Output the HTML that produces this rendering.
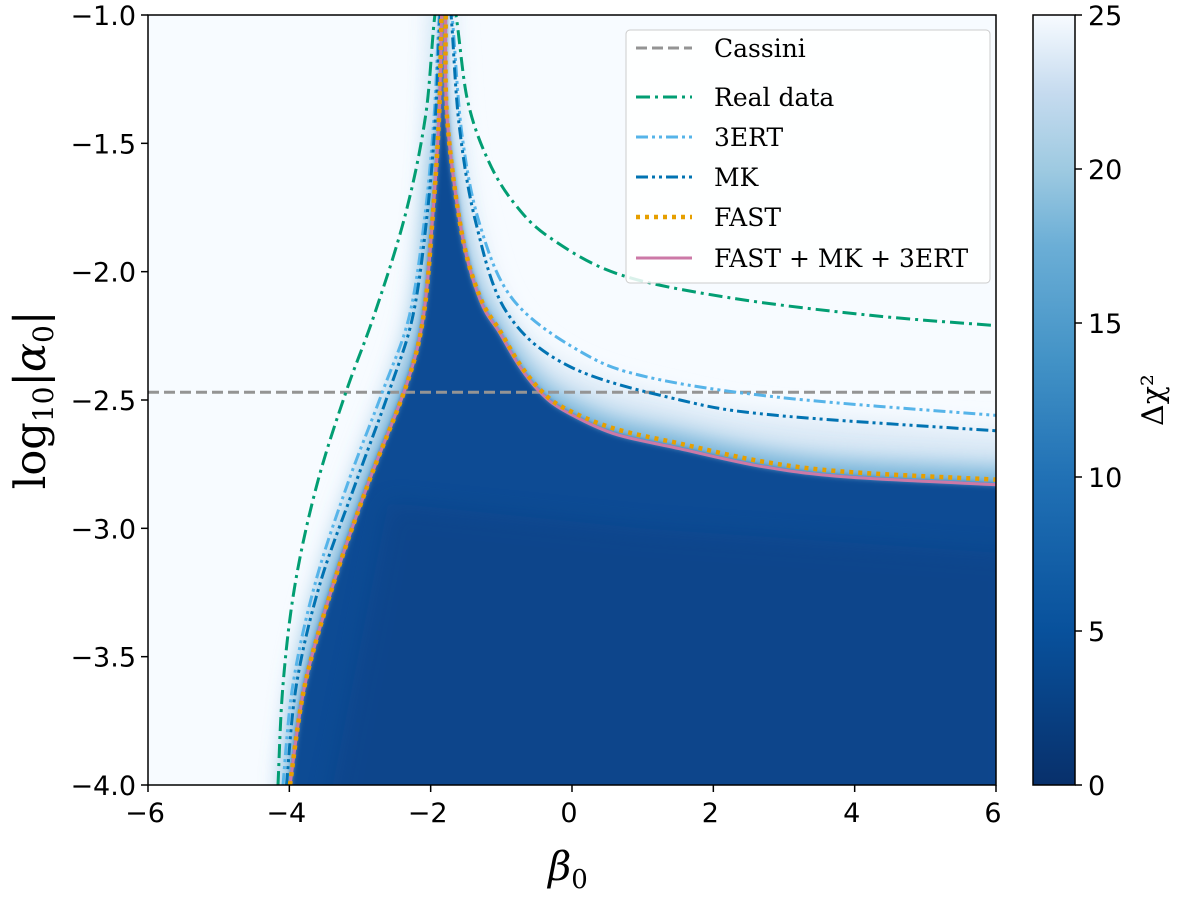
<!DOCTYPE html>
<html><head><meta charset="utf-8"><style>
body{margin:0;background:#fff;width:1200px;height:893px;overflow:hidden}
svg text{font-family:"DejaVu Sans","Liberation Sans",sans-serif}
.serif{font-family:"DejaVu Serif","Liberation Serif",serif}
</style></head><body>
<svg id="chart" width="1200" height="893" xmlns="http://www.w3.org/2000/svg">
<defs>
<clipPath id="plotclip"><rect x="148" y="15" width="848" height="770"/></clipPath>
<filter id="blur4" x="-20%" y="-20%" width="140%" height="140%"><feGaussianBlur stdDeviation="3"/></filter>
<filter id="blur14" x="-20%" y="-20%" width="140%" height="140%"><feGaussianBlur stdDeviation="12"/></filter>
<linearGradient id="cbgrad" x1="0" y1="1" x2="0" y2="0">
<stop offset="0" stop-color="#08306b"/><stop offset="0.2" stop-color="#08519c"/><stop offset="0.4" stop-color="#2171b5"/><stop offset="0.55" stop-color="#4292c6"/><stop offset="0.7" stop-color="#6baed6"/><stop offset="0.8" stop-color="#9ecae1"/><stop offset="0.9" stop-color="#c6dbef"/><stop offset="1" stop-color="#f7fbff"/>
</linearGradient>
</defs>
<g id="plot" clip-path="url(#plotclip)"><rect x="148" y="15" width="848" height="770" fill="#f7fbff"/></g>
<g id="overlay"></g>
<rect x="148" y="15" width="848" height="770" fill="none" stroke="#000" stroke-width="1.5"/>
<g id="axes"></g>
<rect x="1033" y="15" width="42" height="770" fill="url(#cbgrad)" stroke="#000" stroke-width="1.5"/>
<text x="1163" y="400" font-size="30" class="serif" text-anchor="middle" transform="rotate(-90 1163 400)">Δχ²</text>
<text x="568" y="880" font-size="40" class="serif" font-style="italic" text-anchor="middle">β<tspan font-size="26" dy="8" font-style="normal">0</tspan></text>
<text x="45" y="400" font-size="43" class="serif" text-anchor="middle" transform="rotate(-90 45 400)">log<tspan font-size="28" dy="8">10</tspan><tspan dy="-8">|</tspan><tspan font-style="italic">α</tspan><tspan font-size="28" dy="8">0</tspan><tspan dy="-8">|</tspan></text>
<g id="legend">
<rect x="626" y="30" width="364" height="253" rx="4" fill="#fff" fill-opacity="0.85" stroke="#ccc" stroke-width="1"/>
</g>
</svg>
<script>
const xTicks=[-6,-4,-2,0,2,4,6];
const yTicks=[-1.0,-1.5,-2.0,-2.5,-3.0,-3.5,-4.0];
const cbTicks=[0,5,10,15,20,25];
const cassiniAlpha=-2.47;
// curves: left branch bottom->top, then right branch top->right edge
const realBeta=[-4.16,-4.09,-3.92,-3.61,-3.2,-2.8,-2.36,-2.07,-1.91,-1.68,-1.48,-1.18,-0.8,-0.3,0.66,2.19,4.22,6.0];
const realAlpha=[-4.0,-3.61,-3.22,-2.83,-2.47,-2.17,-1.78,-1.39,-0.95,-0.95,-1.33,-1.57,-1.74,-1.87,-2.01,-2.1,-2.17,-2.21];
const ertBeta=[-4.09,-3.95,-3.64,-3.18,-2.67,-2.3,-2.08,-1.95,-1.86,-1.72,-1.56,-1.3,-0.83,0.11,1.06,2.94,6.0];
const ertAlpha=[-4.0,-3.61,-3.22,-2.83,-2.46,-2.17,-1.78,-1.39,-0.95,-0.95,-1.46,-1.82,-2.11,-2.31,-2.41,-2.49,-2.56];
const mkBeta=[-4.04,-3.9,-3.57,-3.07,-2.58,-2.25,-2.05,-1.93,-1.85,-1.73,-1.6,-1.36,-0.92,-0.03,1.53,2.9,6.0];
const mkAlpha=[-4.0,-3.61,-3.22,-2.83,-2.46,-2.17,-1.78,-1.39,-0.95,-0.95,-1.42,-1.81,-2.16,-2.37,-2.5,-2.56,-2.62];
const fastBeta=[-3.99,-3.78,-3.38,-2.89,-2.34,-2.1,-1.97,-1.88,-1.84,-1.79,-1.77,-1.56,-1.3,-1.02,-0.74,-0.45,-0.12,0.58,1.53,2.7,3.9,6.0];
const fastAlpha=[-4.0,-3.61,-3.22,-2.83,-2.44,-2.17,-1.78,-1.39,-0.95,-0.95,-1.39,-1.85,-2.1,-2.23,-2.36,-2.46,-2.53,-2.61,-2.67,-2.74,-2.78,-2.81];
const combBeta=[-3.99,-3.78,-3.38,-2.89,-2.34,-2.1,-1.97,-1.88,-1.84,-1.79,-1.77,-1.56,-1.3,-1.02,-0.74,-0.45,-0.12,0.58,1.53,2.7,3.9,6.0];
const combAlpha=[-4.0,-3.61,-3.22,-2.83,-2.44,-2.17,-1.78,-1.39,-0.95,-0.95,-1.39,-1.85,-2.11,-2.24,-2.37,-2.47,-2.54,-2.63,-2.69,-2.76,-2.8,-2.83];
const cbMax=25;

const X=b=>148+(b+6)*(848/12);
const Y=a=>15+(-1-a)*(770/3);
const CY=v=>785-v/cbMax*770;
const NS='http://www.w3.org/2000/svg';
function mk(tag,attrs,parent){const e=document.createElementNS(NS,tag);for(const k in attrs)e.setAttribute(k,attrs[k]);parent.appendChild(e);return e;}
const plot=document.getElementById('plot'),axes=document.getElementById('axes'),legend=document.getElementById('legend');
function smooth(bs,as){const p=bs.map((b,i)=>[X(b),Y(as[i])]);let d='M'+p[0][0].toFixed(1)+','+p[0][1].toFixed(1);
for(let i=0;i<p.length-1;i++){const p0=p[Math.max(i-1,0)],p1=p[i],p2=p[i+1],p3=p[Math.min(i+2,p.length-1)];
const c1=[p1[0]+(p2[0]-p0[0])/6,p1[1]+(p2[1]-p0[1])/6],c2=[p2[0]-(p3[0]-p1[0])/6,p2[1]-(p3[1]-p1[1])/6];
d+=' C'+c1.map(v=>v.toFixed(1)).join(',')+' '+c2.map(v=>v.toFixed(1)).join(',')+' '+p2[0].toFixed(1)+','+p2[1].toFixed(1);}
return d;}
function closeBottom(d,bLeft,aRight){return d+' L'+X(6.4)+','+Y(aRight)+' L'+X(6.4)+','+Y(-4.4)+' L'+X(bLeft)+','+Y(-4.4)+' Z';}

// heatmap
const fade=mk('path',{d:closeBottom(smooth(mkBeta,mkAlpha),-4.04,-2.62),fill:'#dbe9f6',filter:'url(#blur14)'},plot);


const mid=mk('path',{d:closeBottom(smooth(combBeta,combAlpha),-3.99,-2.83),fill:'#6aaed6',filter:'url(#blur14)',transform:'translate(-4,-16)'},plot);


const dark=mk('path',{d:closeBottom(smooth(combBeta,combAlpha),-3.99,-2.83),fill:'#0b4b94',filter:'url(#blur4)'},plot);


const deep=mk('polygon',{points:X(-3.6)+','+Y(-4.3)+' '+X(-2.6)+','+Y(-2.9)+' '+X(1)+','+Y(-3.0)+' '+X(6.3)+','+Y(-3.1)+' '+X(6.3)+','+Y(-4.3),fill:'#083c80',filter:'url(#blur14)',opacity:'0.4'},plot);



const ov=document.getElementById('overlay');
const g=mk('g',{'clip-path':'url(#plotclip)'},ov);
const cas=mk('line',{x1:148,x2:996,y1:Y(cassiniAlpha),y2:Y(cassiniAlpha),stroke:'#949494','stroke-width':3,'stroke-dasharray':'11,5'},g);


const series=[
 ['real-data-curve',realBeta,realAlpha,'#029e73',3,'14,5,3,5'],
 ['3ert-curve',ertBeta,ertAlpha,'#56b4e9',3,'12,4,3,4,3,4'],
 ['mk-curve',mkBeta,mkAlpha,'#0173b2',3,'12,4,3,4,3,4'],
 ['fast-mk-3ert-curve',combBeta,combAlpha,'#cc79a7',3,''],
 ['fast-curve',fastBeta,fastAlpha,'#e69f00',4.5,'4,5']
];
series.forEach(s=>{const p=mk('path',{d:smooth(s[1],s[2]),fill:'none',stroke:s[3],'stroke-width':s[4],'stroke-dasharray':s[5],'stroke-linejoin':'round'},g);

});

// ticks
xTicks.forEach(t=>{mk('line',{x1:X(t),x2:X(t),y1:785,y2:792,stroke:'#000','stroke-width':1.5},axes);
const tx=mk('text',{x:X(t)-3,y:822,'font-size':27,'text-anchor':'middle'},axes);tx.textContent=(t<0?'−':'')+Math.abs(t);

});
yTicks.forEach(t=>{mk('line',{x1:141,x2:148,y1:Y(t),y2:Y(t),stroke:'#000','stroke-width':1.5},axes);
const tx=mk('text',{x:136,y:Y(t)+10,'font-size':27,'text-anchor':'end'},axes);tx.textContent='−'+Math.abs(t).toFixed(1);

});
cbTicks.forEach(t=>{mk('line',{x1:1075,x2:1082,y1:CY(t),y2:CY(t),stroke:'#000','stroke-width':1.5},axes);
const tx=mk('text',{x:1088,y:CY(t)+10,'font-size':27},axes);tx.textContent=t;

});

// legend
const leg=[['Cassini','#949494',3,'11,5',48],['Real data','#029e73',3,'14,5,3,5',97],['3ERT','#56b4e9',3,'12,4,3,4,3,4',137],['MK','#0173b2',3,'12,4,3,4,3,4',177],['FAST','#e69f00',4.5,'4,5',217],['FAST + MK + 3ERT','#cc79a7',3,'',258]];
leg.forEach(l=>{const it=mk('g',{},legend);


mk('line',{x1:636,x2:692,y1:l[4],y2:l[4],stroke:l[1],'stroke-width':l[2],'stroke-dasharray':l[3]},it);
const t=mk('text',{x:714,y:l[4]+9,'font-size':25,class:'serif'},it);t.textContent=l[0];});
</script>
</body></html>
